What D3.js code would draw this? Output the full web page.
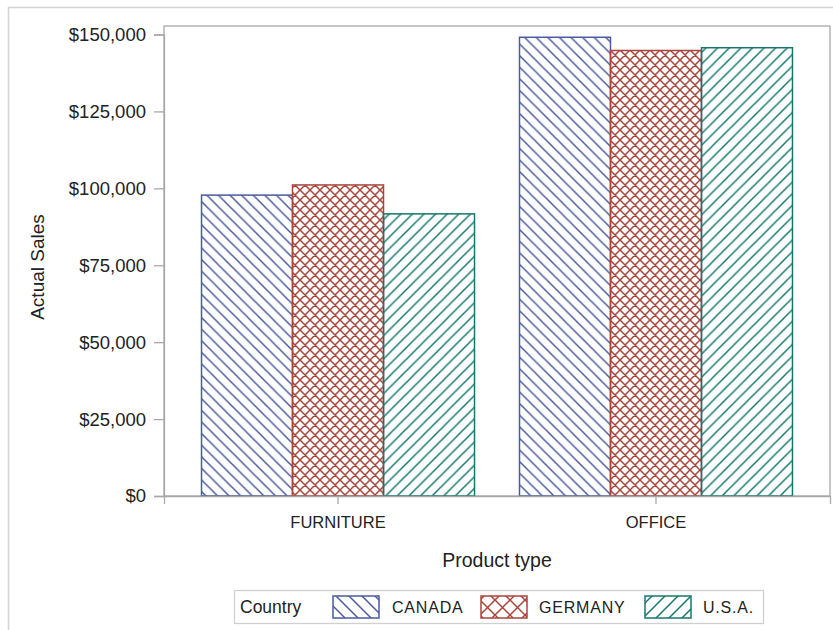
<!DOCTYPE html>
<html><head><meta charset="utf-8">
<script src="https://cdn.jsdelivr.net/npm/d3@7"></script>
<style>body{margin:0;background:#fff} text{font-family:"Liberation Sans",Arial,sans-serif;fill:#222}</style>
</head><body><svg id="c" width="833" height="630"></svg>
<script>
const categories = ["FURNITURE", "OFFICE"];
const countries = ["CANADA", "GERMANY", "U.S.A."];
const canada = [97800, 149100];
const germany = [101100, 144800];
const usa = [91700, 145700];
const yTicks = [0, 25000, 50000, 75000, 100000, 125000, 150000];
const colors = ["#4b5b9e", "#a9463c", "#16786d"];
const patternKinds = ["back", "cross", "fwd"];

const series = [canada, germany, usa];
const rows = [];
categories.forEach((c, i) => countries.forEach((k, j) => rows.push({cat: c, country: k, j, value: series[j][i]})));

const svg = d3.select("#c");
const W = 833, H = 630;
const L = 164, R = 830, T = 26, B = 496;

// outer frame
svg.append("path").attr("d", `M8.5,${H} V7.5 H${W}`).attr("fill", "none").attr("stroke", "#d4d4d4").attr("stroke-width", 1.5);

const defs = svg.append("defs");
function makePattern(id, kind, color, P, sw) {
  const p = defs.append("pattern").attr("id", id).attr("patternUnits", "userSpaceOnUse")
    .attr("width", P).attr("height", P);
  let d = "";
  const back = `M-2,${P-2} L2,${P+2} M0,0 L${P},${P} M${P-2},-2 L${P+2},2`;
  const fwd = `M-2,2 L2,-2 M0,${P} L${P},0 M${P-2},${P+2} L${P+2},${P-2}`;
  if (kind === "back") d = back; else if (kind === "fwd") d = fwd; else d = back + " " + fwd;
  p.append("path").attr("d", d).attr("stroke", color).attr("stroke-width", sw).attr("fill", "none");
}
countries.forEach((k, j) => {
  makePattern("bar" + j, patternKinds[j], colors[j], j === 1 ? 10 : 11.6, 1.5);
  makePattern("leg" + j, patternKinds[j], colors[j], j === 1 ? 15 : 13, 1.5);
});

const x = d3.scaleBand().domain(categories).range([L, R]).paddingInner(0.1415).paddingOuter(0.118);
const xi = d3.scaleBand().domain(countries).range([0, x.bandwidth()]);
const y = d3.scaleLinear().domain([0, 150000]).range([B, 34.5]);

// plot frame
svg.append("rect").attr("x", L).attr("y", T).attr("width", R - L).attr("height", B - T)
  .attr("fill", "none").attr("stroke", "#a8a8a8").attr("stroke-width", 1.3);

// bars
svg.append("g").selectAll("rect").data(rows).join("rect")
  .attr("x", d => x(d.cat) + xi(d.country))
  .attr("y", d => y(d.value))
  .attr("width", xi.bandwidth())
  .attr("height", d => B - y(d.value))
  .attr("fill", d => `url(#bar${d.j})`)
  .attr("stroke", d => colors[d.j]).attr("stroke-width", 1.5);

// y axis
const yAxis = svg.append("g").attr("transform", `translate(${L},0)`)
  .call(d3.axisLeft(y).tickValues(yTicks).tickSize(10).tickPadding(8)
    .tickFormat(d => "$" + d3.format(",")(d)));
yAxis.select(".domain").attr("stroke", "#a8a8a8").attr("stroke-width", 1.3);
yAxis.selectAll(".tick line").attr("stroke", "#a8a8a8").attr("stroke-width", 1.3);
yAxis.selectAll("text").attr("font-size", 18.5).attr("fill", "#1a1a1a").style("font-family", '"Liberation Sans",Arial,sans-serif');

// x axis
const xAxis = svg.append("g").attr("transform", `translate(0,${B})`)
  .call(d3.axisBottom(x).tickSize(8).tickPadding(12));
xAxis.select(".domain").attr("stroke", "#a8a8a8").attr("stroke-width", 1.3);
xAxis.selectAll(".tick line").attr("stroke", "#a8a8a8").attr("stroke-width", 1.3);
xAxis.selectAll("text").attr("font-size", 16.5).attr("fill", "#1a1a1a").style("font-family", '"Liberation Sans",Arial,sans-serif');

// axis titles
svg.append("text").attr("transform", "translate(44,267) rotate(-90)").attr("text-anchor", "middle")
  .attr("font-size", 19).text("Actual Sales");
svg.append("text").attr("x", (L + R) / 2).attr("y", 567).attr("text-anchor", "middle")
  .attr("font-size", 19.5).text("Product type");

// legend
const lg = svg.append("g");
lg.append("rect").attr("x", 234.5).attr("y", 590.5).attr("width", 529).attr("height", 33)
  .attr("fill", "#fff").attr("stroke", "#d0d0d0").attr("stroke-width", 1.3);
lg.append("text").attr("x", 240).attr("y", 613).attr("font-size", 17.5).text("Country");
const swX = [333, 481, 645];
const txX = [392, 539, 703];
countries.forEach((k, j) => {
  lg.append("rect").attr("x", swX[j]).attr("y", 596).attr("width", 46).attr("height", 22)
    .attr("fill", `url(#leg${j})`).attr("stroke", colors[j]).attr("stroke-width", 1.5);
  lg.append("text").attr("x", txX[j]).attr("y", 613).attr("font-size", 16).attr("letter-spacing", 0.8).text(k);
});
</script></body></html>
